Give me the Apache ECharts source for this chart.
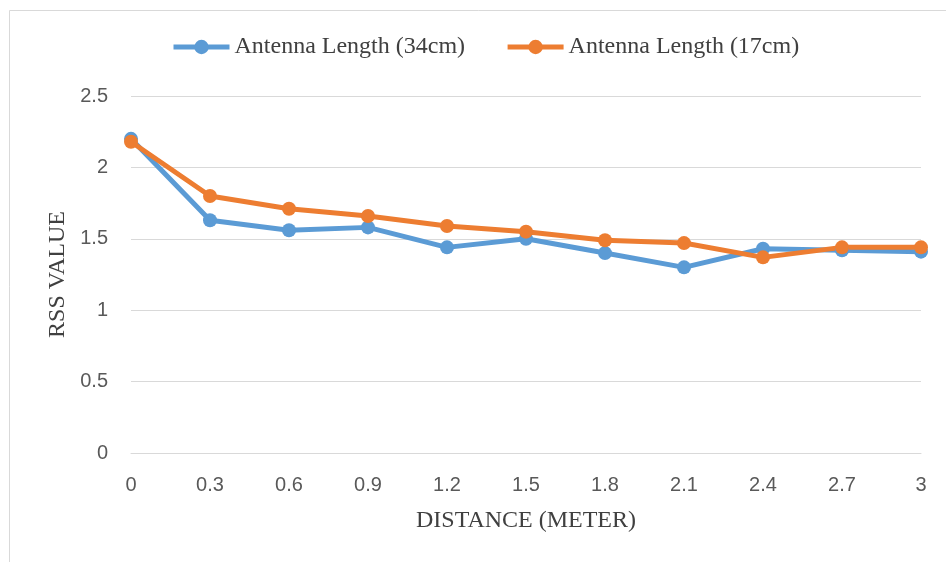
<!DOCTYPE html>
<html>
<head>
<meta charset="utf-8">
<script src="https://cdn.jsdelivr.net/npm/echarts@6/dist/echarts.min.js"></script>
<style>
  html, body { margin: 0; padding: 0; background: #fff; }
  #chart { width: 946px; height: 562px; }
</style>
</head>
<body>
<div id="chart"></div>
<script>
// Distance steps (metres) along the x axis
const distances = ['0', '0.3', '0.6', '0.9', '1.2', '1.5', '1.8', '2.1', '2.4', '2.7', '3'];
// RSS readings per antenna length
const rss34cm = [2.20, 1.63, 1.56, 1.58, 1.44, 1.50, 1.40, 1.30, 1.43, 1.42, 1.41];
const rss17cm = [2.18, 1.80, 1.71, 1.66, 1.59, 1.55, 1.49, 1.47, 1.37, 1.44, 1.44];
const seriesNames = ['Antenna Length (34cm)', 'Antenna Length (17cm)'];

const chart = echarts.init(document.getElementById('chart'), null, { renderer: 'canvas' });

const tickFont = { fontFamily: 'Liberation Sans, Arial, sans-serif', fontSize: 20, color: '#595959' };
const serif = 'Liberation Serif, Times New Roman, serif';

function lineSeries(name, data, color) {
  return {
    name: name,
    type: 'line',
    data: data,
    symbol: 'circle',
    symbolSize: 14,
    lineStyle: { width: 5, color: color },
    itemStyle: { color: color },
    emphasis: { disabled: true }
  };
}

chart.setOption({
  animation: false,
  backgroundColor: '#fff',
  graphic: [{
    type: 'rect',
    shape: { x: 9.5, y: 10.5, width: 1000, height: 1000 },
    style: { fill: 'none', stroke: '#d9d9d9', lineWidth: 1 },
    silent: true
  }],
  legend: {
    top: 30,
    left: 166,
    itemWidth: 56,
    itemHeight: 18,
    itemGap: 40,
    lineStyle: { width: 5 },
    textStyle: { fontFamily: serif, fontSize: 24, color: '#404040' },
    data: seriesNames
  },
  grid: { left: 131, right: 25, top: 96, bottom: 109 },
  xAxis: {
    type: 'category',
    boundaryGap: false,
    data: distances,
    axisLine: { lineStyle: { color: '#d9d9d9', width: 1 } },
    axisTick: { show: false },
    axisLabel: Object.assign({ margin: 22 }, tickFont),
    name: 'DISTANCE (METER)',
    nameLocation: 'middle',
    nameGap: 56,
    nameTextStyle: { fontFamily: serif, fontSize: 24, color: '#404040' }
  },
  yAxis: {
    type: 'value',
    min: 0,
    max: 2.5,
    interval: 0.5,
    axisLine: { show: false },
    axisTick: { show: false },
    splitLine: { lineStyle: { color: '#d9d9d9', width: 1 } },
    axisLabel: Object.assign({ margin: 23 }, tickFont),
    name: 'RSS VALUE',
    nameLocation: 'middle',
    nameGap: 57,
    nameTextStyle: { fontFamily: serif, fontSize: 24, color: '#404040' }
  },
  series: [
    lineSeries(seriesNames[0], rss34cm, '#5b9bd5'),
    lineSeries(seriesNames[1], rss17cm, '#ed7d31')
  ]
});
</script>
</body>
</html>
